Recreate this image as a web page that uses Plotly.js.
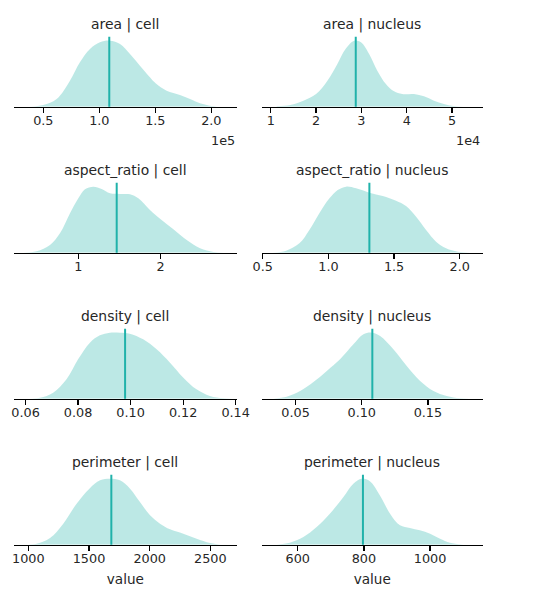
<!DOCTYPE html>
<html>
<head>
<meta charset="utf-8">
<script src="https://cdn.plot.ly/plotly-3.0.1.min.js"></script>
<style>html,body{margin:0;padding:0;background:#fff;}#chart{width:541px;height:598px;}</style>
</head>
<body>
<div id="chart"></div>
<script>
// ---- data (KDE curves; y = relative density) ----
const panelTitles = ['area | cell', 'area | nucleus', 'aspect_ratio | cell', 'aspect_ratio | nucleus',
                     'density | cell', 'density | nucleus', 'perimeter | cell', 'perimeter | nucleus'];

const areaCellX = [38100, 50000, 61900, 73800, 82700, 91700, 100600, 109500, 118500, 127400, 136300, 145200, 150300, 160100, 172000, 181000, 189900, 200000, 204800];
const areaCellY = [0, 5, 23, 78, 133, 173, 193, 198, 188, 158, 123, 88, 70, 48, 35, 23, 10, 2, 0];
const areaCellMed = 108900;

const areaNucX = [11300, 14300, 17200, 20000, 22500, 24700, 26500, 28400, 29900, 31700, 33500, 35400, 37200, 39000, 41600, 43800, 46000, 48200, 50300, 52500];
const areaNucY = [1, 5, 18, 38, 78, 128, 173, 198, 193, 158, 108, 68, 46, 38, 38, 31, 18, 8, 2, 0];
const areaNucMed = 28750;

const aspCellX = [0.332, 0.494, 0.656, 0.777, 0.899, 1.0, 1.081, 1.182, 1.283, 1.385, 1.506, 1.628, 1.729, 1.870, 2.0, 2.154, 2.316, 2.478, 2.640, 2.761];
const aspCellY = [0, 4, 23, 58, 118, 163, 190, 198, 191, 178, 176, 175, 163, 128, 100, 70, 38, 13, 2, 0];
const aspCellMed = 1.466;

const aspNucX = [0.576, 0.678, 0.779, 0.855, 0.931, 1.008, 1.071, 1.135, 1.211, 1.312, 1.414, 1.515, 1.591, 1.668, 1.744, 1.820, 1.896, 1.985, 2.074];
const aspNucY = [0, 6, 28, 68, 118, 163, 188, 198, 193, 180, 170, 156, 140, 108, 68, 33, 13, 3, 0];
const aspNucMed = 1.312;

const denCellX = [0.0604, 0.0655, 0.0705, 0.0756, 0.0800, 0.0845, 0.0883, 0.0921, 0.0959, 0.0997, 0.1048, 0.1099, 0.1150, 0.1201, 0.1251, 0.1302, 0.1353, 0.1391];
const denCellY = [0, 3, 18, 58, 118, 168, 190, 198, 198, 195, 178, 148, 108, 63, 28, 8, 1, 0];
const denCellMed = 0.0979;

const denNucX = [0.0333, 0.0433, 0.0534, 0.0635, 0.0736, 0.0836, 0.0937, 0.1013, 0.1076, 0.1139, 0.1239, 0.1340, 0.1441, 0.1542, 0.1642, 0.1743, 0.1819];
const denNucY = [0, 6, 23, 50, 83, 118, 163, 193, 198, 188, 148, 98, 53, 23, 8, 1, 0];
const denNucMed = 0.1080;

const perCellX = [959, 1069, 1179, 1288, 1398, 1503, 1591, 1673, 1755, 1838, 1920, 2003, 2085, 2168, 2277, 2387, 2497, 2580];
const perCellY = [0, 3, 20, 63, 123, 168, 193, 198, 193, 168, 128, 88, 63, 46, 33, 18, 5, 0];
const perCellMed = 1684;

const perNucX = [536, 576, 617, 657, 697, 738, 768, 793, 818, 848, 879, 909, 939, 969, 1000, 1030, 1060, 1100];
const perNucY = [0, 6, 23, 53, 93, 143, 183, 198, 190, 148, 93, 58, 50, 43, 33, 18, 6, 0];
const perNucMed = 797;

// tick labels
const areaCellTicks = [50000, 100000, 150000, 200000];
const areaCellTickText = ['0.5', '1.0', '1.5', '2.0'];
const areaNucTicks = [10000, 20000, 30000, 40000, 50000];
const areaNucTickText = ['1', '2', '3', '4', '5'];
const aspCellTicks = [1, 2];
const aspNucTicks = [0.5, 1.0, 1.5, 2.0];
const denCellTicks = [0.06, 0.08, 0.10, 0.12, 0.14];
const denNucTicks = [0.05, 0.10, 0.15];
const perCellTicks = [1000, 1500, 2000, 2500];
const perNucTicks = [600, 800, 1000];
const offsetLabels = ['1e5', '1e4'];
const xLabel = 'value';

// ---- panels ----
const panels = [
  {x: areaCellX, y: areaCellY, med: areaCellMed, range: [23840, 222680], tv: areaCellTicks, tt: areaCellTickText},
  {x: areaNucX, y: areaNucY, med: areaNucMed, range: [8000, 56760], tv: areaNucTicks, tt: areaNucTickText},
  {x: aspCellX, y: aspCellY, med: aspCellMed, range: [0.219, 2.923], tv: aspCellTicks, tt: aspCellTicks.map(v => v.toFixed(0))},
  {x: aspNucX, y: aspNucY, med: aspNucMed, range: [0.492, 2.175], tv: aspNucTicks, tt: aspNucTicks.map(v => v.toFixed(1))},
  {x: denCellX, y: denCellY, med: denCellMed, range: [0.0556, 0.1404], tv: denCellTicks, tt: denCellTicks.map(v => v.toFixed(2))},
  {x: denNucX, y: denNucY, med: denNucMed, range: [0.0244, 0.1914], tv: denNucTicks, tt: denNucTicks.map(v => v.toFixed(2))},
  {x: perCellX, y: perCellY, med: perCellMed, range: [882, 2717], tv: perCellTicks, tt: perCellTicks.map(String)},
  {x: perNucX, y: perNucY, med: perNucMed, range: [491, 1159], tv: perNucTicks, tt: perNucTicks.map(String)}
];

const W = 541, H = 598;
const colPx = [[14, 236.7], [261.7, 482.7]];
const rowPx = [[36.7, 106.7], [182.7, 252.7], [328.7, 398.7], [474.7, 544.7]];

const lineColor = '#20b2aa';
const fillColor = 'rgba(32,178,170,0.3)';
const textColor = '#262626';
const FONT = 'DejaVu Sans, Arial, sans-serif';

const traces = [];
const layout = {
  width: W, height: H,
  margin: {l: 0, r: 0, t: 0, b: 0},
  paper_bgcolor: '#fff', plot_bgcolor: '#fff',
  showlegend: false,
  font: {family: FONT, color: textColor, size: 12.5},
  shapes: [], annotations: []
};

panels.forEach((p, i) => {
  const r = Math.floor(i / 2), c = i % 2;
  const n = i + 1;
  const xa = n === 1 ? 'xaxis' : 'xaxis' + n;
  const ya = n === 1 ? 'yaxis' : 'yaxis' + n;
  const xr = n === 1 ? 'x' : 'x' + n;
  const yr = n === 1 ? 'y' : 'y' + n;
  traces.push({
    type: 'scatter', mode: 'lines', x: p.x, y: p.y, xaxis: xr, yaxis: yr,
    fill: 'tozeroy', fillcolor: fillColor,
    line: {color: 'rgba(0,0,0,0)', width: 0, shape: 'spline', smoothing: 1},
    hoverinfo: 'skip'
  });
  layout[xa] = {
    domain: [colPx[c][0] / W, colPx[c][1] / W],
    anchor: yr, range: p.range, showgrid: false, zeroline: false,
    showline: true, linecolor: '#000', linewidth: 1.25,
    ticks: 'outside', ticklen: 5, tickwidth: 1.25, tickcolor: '#000',
    ticklabelstandoff: -3,
    tickmode: 'array', tickvals: p.tv, ticktext: p.tt,
    tickfont: {family: FONT, size: 12.8, color: textColor}
  };
  if (r === 3) {
    layout[xa].title = {text: xLabel, font: {family: FONT, size: 13.6, color: textColor}, standoff: 9};
  }
  const ymax = Math.max(...p.y) * 1.06;
  layout[ya] = {
    domain: [1 - rowPx[r][1] / H, 1 - rowPx[r][0] / H],
    anchor: xr, range: [0, ymax], visible: false, fixedrange: true
  };
  layout.shapes.push({
    type: 'line', xref: xr, yref: yr + ' domain', x0: p.med, x1: p.med, y0: 0, y1: 1,
    line: {color: lineColor, width: 2}
  });
  layout.annotations.push({
    text: panelTitles[i], xref: xr + ' domain', yref: yr + ' domain', x: 0.5, y: 1,
    xanchor: 'center', yanchor: 'middle', yshift: 12.5, showarrow: false,
    font: {family: FONT, size: 13.9, color: textColor}
  });
  if (r === 0) {
    layout.annotations.push({
      text: offsetLabels[c], xref: xr + ' domain', yref: yr + ' domain', x: 1, y: 0,
      xanchor: 'right', yanchor: 'middle', yshift: -34, xshift: c === 0 ? 0 : -1, showarrow: false,
      font: {family: FONT, size: 12.8, color: textColor}
    });
  }
});

Plotly.newPlot('chart', traces, layout, {displayModeBar: false, staticPlot: true});
</script>
</body>
</html>
